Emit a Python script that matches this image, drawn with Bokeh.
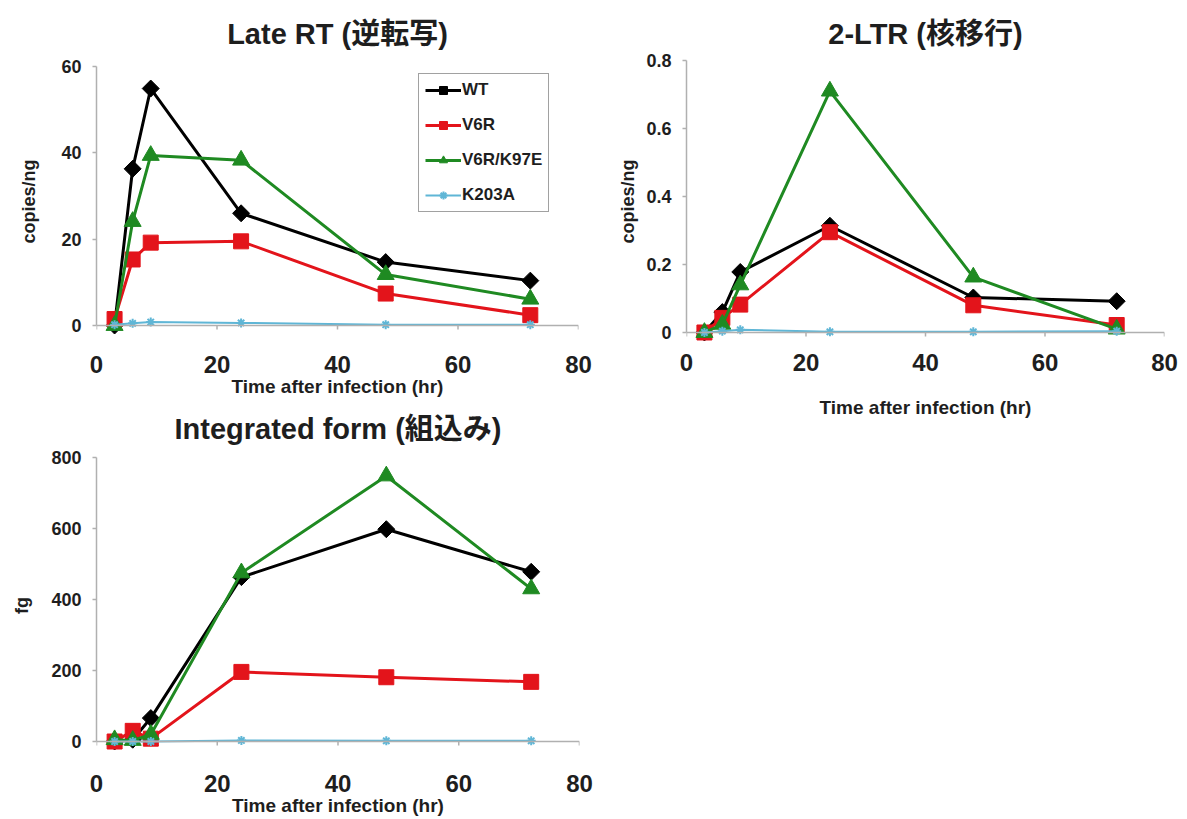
import math
from bokeh.plotting import figure
from bokeh.layouts import column, row
from bokeh.models import Range1d, Legend, LegendItem, Span
from bokeh.embed import file_html
from bokeh.resources import INLINE

hours = [3, 6, 9, 24, 48, 72]
series_names = ["WT", "V6R", "V6R/K97E", "K203A"]

late_wt = [0, 36.3, 54.9, 26.0, 14.7, 10.4]
late_v6r = [1.5, 15.3, 19.2, 19.5, 7.4, 2.4]
late_v6rk97e = [0, 24.1, 39.4, 38.3, 11.8, 6.1]
late_k203a = [0.2, 0.5, 0.8, 0.6, 0.2, 0.2]

ltr_wt = [0, 0.06, 0.178, 0.314, 0.103, 0.092]
ltr_v6r = [0.0, 0.043, 0.082, 0.295, 0.08, 0.022]
ltr_v6rk97e = [0, 0.024, 0.14, 0.71, 0.163, 0.01]
ltr_k203a = [0, 0.004, 0.008, 0.002, 0.002, 0.004]

int_wt = [0, 5, 66, 463, 598, 478]
int_v6r = [0, 30, 8, 196, 181, 168]
int_v6rk97e = [5, 3, 20, 475, 748, 430]
int_k203a = [0, 0, 0, 3, 2, 2]

titles = ["Late RT (逆転写)", "2-LTR (核移行)", "Integrated form (組込み)"]
ylabels = ["copies/ng", "copies/ng", "fg"]
xlabel = "Time after infection (hr)"
y_ticks = [[0, 20, 40, 60], [0, 0.2, 0.4, 0.6, 0.8], [0, 200, 400, 600, 800]]
x_ticks = [0, 20, 40, 60, 80]

COLORS = ["#000000", "#e3141b", "#1f8a22", "#5fb6d6"]
MARKERS = ["square", "square", "triangle", "asterisk"]
ANGLES = [math.pi / 4, 0, 0, 0]
SIZES = [12, 15, 17, 9]
FONT = "Liberation Sans"
TFONT = "Liberation Sans, Noto Sans CJK JP"
AXC = "#b0b0b0"
TXT = "#1e1e1e"


def make(idx, data, ymax, ylo, yhi, fw, fh, bl, bt, bb, br, tstand,
         tick_standoff, label_standoff, ylab_standoff, legend=False):
    p = figure(output_backend="svg", toolbar_location=None,
               frame_width=fw, frame_height=fh,
               min_border_left=bl, min_border_top=bt, min_border_bottom=bb,
               min_border_right=br,
               x_range=Range1d(0, 80), y_range=Range1d(ylo, yhi),
               title=titles[idx])
    p.outline_line_color = None
    p.grid.grid_line_color = None
    p.background_fill_color = "white"
    p.border_fill_color = "white"
    p.title.align = "center"
    p.title.text_font = TFONT
    p.title.text_font_size = "29px"
    p.title.text_font_style = "bold"
    p.title.text_color = TXT
    p.title.standoff = tstand

    p.xaxis.ticker = x_ticks
    p.yaxis.ticker = y_ticks[idx]
    p.yaxis.bounds = (0, ymax)
    for ax in (p.xaxis, p.yaxis):
        ax.axis_line_color = AXC
        ax.axis_line_width = 1.5
        ax.major_tick_line_color = AXC
        ax.major_tick_line_width = 1.5
        ax.major_tick_in = 0
        ax.major_tick_out = 4
        ax.minor_tick_line_color = None
        ax.major_label_text_font = FONT
        ax.major_label_text_font_style = "bold"
        ax.major_label_text_color = TXT
        ax.axis_label_text_font = FONT
        ax.axis_label_text_font_style = "bold"
        ax.axis_label_text_color = TXT
    # x axis: labels only; the axis line is drawn at y = 0 below
    p.xaxis.axis_line_color = None
    p.xaxis.major_tick_line_color = None
    p.xaxis.major_tick_out = 0
    p.xaxis.major_label_text_font_size = "24px"
    p.yaxis.major_label_text_font_size = "18px"
    p.xaxis.axis_label = xlabel
    p.yaxis.axis_label = ylabels[idx]
    p.xaxis.axis_label_text_font_size = "19px"
    p.yaxis.axis_label_text_font_size = "18px"
    p.xaxis.major_label_standoff = tick_standoff
    p.xaxis.axis_label_standoff = label_standoff
    p.yaxis.major_label_standoff = 11
    p.yaxis.axis_label_standoff = ylab_standoff

    p.add_layout(Span(location=0, dimension="width", line_color=AXC,
                      line_width=1.5))
    tick_len = 4.0 * (yhi - ylo) / fh
    p.segment(x0=x_ticks, y0=[0] * len(x_ticks), x1=x_ticks,
              y1=[-tick_len] * len(x_ticks), line_color=AXC, line_width=1.5)

    items = []
    for name, ys, c, m, s, a in zip(series_names, data, COLORS, MARKERS,
                                    SIZES, ANGLES):
        lw = 2 if m == "asterisk" else 3
        ln = p.line(hours, ys, line_color=c, line_width=lw)
        if m == "asterisk":
            sc = p.scatter(hours, ys, marker=m, size=s, line_color=c,
                           line_width=2)
        else:
            sc = p.scatter(hours, ys, marker=m, size=s, angle=a, fill_color=c,
                           line_color=c)
        items.append(LegendItem(label=name, renderers=[ln, sc]))
    if legend:
        lg = Legend(items=items, location=(322, 134))
        lg.border_line_color = "#444444"
        lg.border_line_width = 1.5
        lg.background_fill_color = "white"
        lg.label_text_font = FONT
        lg.label_text_font_style = "bold"
        lg.label_text_font_size = "17px"
        lg.label_text_color = TXT
        lg.glyph_width = 36
        lg.glyph_height = 20
        lg.label_height = 20
        lg.label_standoff = 1
        lg.spacing = 15
        lg.padding = 6
        lg.margin = 0
        p.add_layout(lg, "center")
    return p


# chart 1: 60 at y=66, 0 at y=325 (frame 56..346)
p1 = make(0, [late_wt, late_v6r, late_v6rk97e, late_k203a], 60, -4.86, 62.32,
          482, 290, 96, 56, 58, 22, 14, 9, 0, 19, legend=True)
# chart 2: 0.8 at y=60, 0 at y=332 (frame 56..346)
p2 = make(1, [ltr_wt, ltr_v6r, ltr_v6rk97e, ltr_k203a], 0.8, -0.0412, 0.8118,
          478, 290, 86, 56, 82, 16, 14, 7, 23, 5)
# chart 3: 800 at y=456, 0 at y=740 (frame 450..758)
p3 = make(2, [int_wt, int_v6r, int_v6rk97e, int_k203a], 800, -50.7, 816.9,
          483, 308, 91, 46, 57, 26, 13, 15, 0, 16)

layout = row(column(p1, p3, spacing=0), p2, spacing=0)
open("out.html", "w").write(file_html(layout, INLINE))
